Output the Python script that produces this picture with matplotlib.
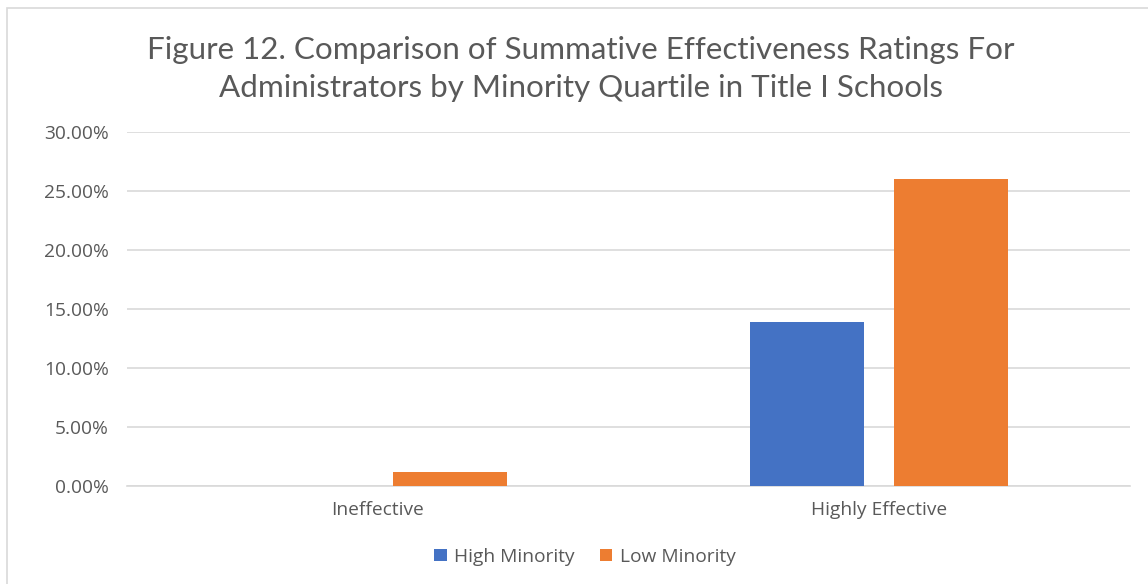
import numpy as np
import matplotlib.pyplot as plt
from matplotlib.patches import Rectangle
from matplotlib.ticker import FuncFormatter

categories = ['Ineffective', 'Highly Effective']
high_minority = [0.0, 13.9]
low_minority = [1.15, 26.0]
series_names = ['High Minority', 'Low Minority']
y_ticks = [0, 5, 10, 15, 20, 25, 30]

blue = '#4472C4'
orange = '#ED7D31'
text_gray = '#595959'
grid_gray = '#D9D9D9'

plt.rcParams['font.family'] = ['Open Sans', 'DejaVu Sans']

fig = plt.figure(figsize=(11.48, 5.84), dpi=100)
ax = fig.add_axes([0.1106, 0.168, 0.8734, 0.606])

# chart frame
fig.patches.append(Rectangle((7 / 1148, -0.1), 1.2, (584 - 8) / 584 + 0.1,
                             transform=fig.transFigure, fill=False,
                             edgecolor='#D9D9D9', linewidth=1.2))

x = np.arange(len(categories))
w = 0.228
off = 0.144
ax.bar(x - off, high_minority, w, color=blue, label=series_names[0], zorder=3)
ax.bar(x + off, low_minority, w, color=orange, label=series_names[1], zorder=3)

ax.set_xlim(-0.5, 1.5)
ax.set_ylim(0, 30)
ax.set_yticks(y_ticks)
ax.yaxis.set_major_formatter(FuncFormatter(lambda v, p: f'{v:.2f}%'))
ax.set_xticks(x)
ax.set_xticklabels(categories)
ax.tick_params(axis='both', length=0, labelsize=13.8, colors=text_gray)
ax.tick_params(axis='y', pad=13)
ax.tick_params(axis='x', pad=11)
ax.grid(axis='y', color=grid_gray, linewidth=1.2, zorder=0)
for s in ['top', 'right', 'left']:
    ax.spines[s].set_visible(False)
ax.spines['bottom'].set_color(grid_gray)
ax.spines['bottom'].set_linewidth(1.2)

title_font = dict(ha='center', va='center', fontsize=22.6, color=text_gray, family=['Lato', 'DejaVu Sans'])
fig.text(0.506, 0.915, 'Figure 12. Comparison of Summative Effectiveness Ratings For', **title_font)
fig.text(0.506, 0.85, 'Administrators by Minority Quartile in Title I Schools', **title_font)

leg = ax.legend(loc='center', bbox_to_anchor=(0.457, -0.2), ncol=2, frameon=False,
                fontsize=13.8, handlelength=0.65, handleheight=0.65,
                handletextpad=0.4, columnspacing=1.3)
for t in leg.get_texts():
    t.set_color(text_gray)

fig.savefig('out.png', dpi=100)
